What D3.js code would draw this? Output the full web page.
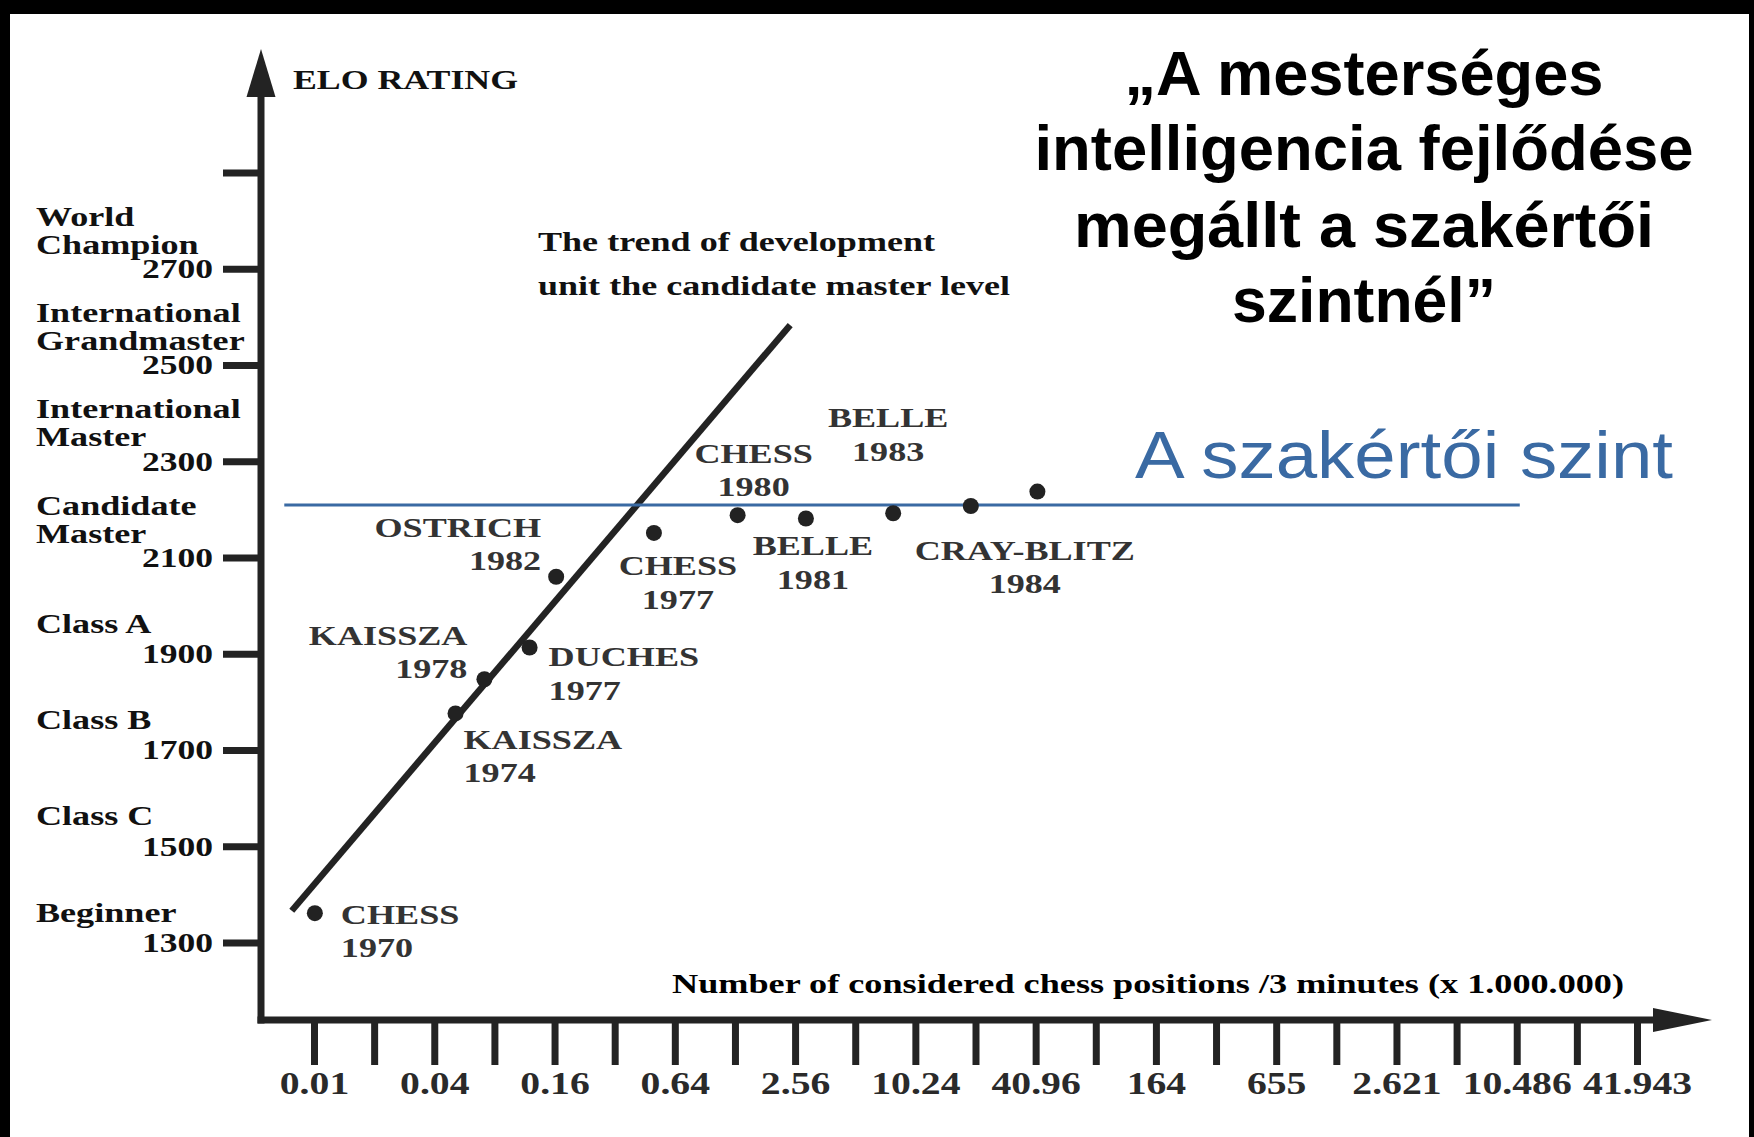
<!DOCTYPE html>
<html><head><meta charset="utf-8">
<script src="https://cdn.jsdelivr.net/npm/d3@7"></script>
<style>html,body{margin:0;padding:0;background:#fff;} svg{display:block}</style>
</head><body>
<svg id="c" width="1754" height="1137"></svg>
<script>
// ---------------- DATA ----------------
const programs  = ["CHESS","KAISSZA","KAISSZA","DUCHES","OSTRICH","CHESS","CHESS","BELLE","BELLE","CRAY-BLITZ",""];
const years     = ["1970","1974","1978","1977","1982","1977","1980","1981","1983","1984",""];
const positions = [0.0101,0.0511,0.0713,0.120,0.163,0.503,1.32,2.90,7.93,19.4,41.8];
const elo       = [1361,1776,1847,1913,2060,2151,2188,2181,2192,2207,2237];

const trendX   = [0.00774, 2.42];
const trendElo = [1366, 2583];

const expertLevel = 2209;
const expertX = [0.0071, 10860];

const yTickValues = [1300,1500,1700,1900,2100,2300,2500,2700,2900];
const yTickLabels = ["1300","1500","1700","1900","2100","2300","2500","2700",""];
const yClassLabels = [["Beginner"],["Class C"],["Class B"],["Class A"],["Candidate","Master"],
  ["International","Master"],["International","Grandmaster"],["World","Champion"],[]];

const xTickValues = [0.01,0.02,0.04,0.08,0.16,0.32,0.64,1.28,2.56,5.12,10.24,20.48,40.96,81.92,
  163.84,327.68,655.36,1310.72,2621.44,5242.88,10485.76,20971.52,41943.04];
const xTickLabels = ["0.01","","0.04","","0.16","","0.64","","2.56","","10.24","","40.96","",
  "164","","655","","2.621","","10.486","","41.943"];

const titleLines = ["\u201EA mesterséges","intelligencia fejlődése","megállt a szakértői","szintnél\u201D"];
const expertText = "A szakértői szint";
const yAxisTitle = "ELO RATING";
const xAxisTitle = "Number of considered chess positions /3 minutes (x 1.000.000)";
const trendText = ["The trend of development","unit the candidate master level"];

// ---------------- LAYOUT (label offsets relative to points) ----------------
const labelLayout = [
  {dx:26, dy:[11,44], a:"start"},
  {dx:8, dy:[36,69], a:"start"},
  {dx:-17, dy:[-34,-1], a:"end"},
  {dx:19, dy:[19,53], a:"start"},
  {dx:-15, dy:[-40,-7], a:"end"},
  {dx:24, dy:[42,76], a:"middle"},
  {dx:16, dy:[-52,-19], a:"middle"},
  {dx:7, dy:[36,70], a:"middle"},
  {dx:-5, dy:[-86,-52], a:"middle"},
  {dx:54, dy:[54,87], a:"middle"},
  {dx:0, dy:[0,0], a:"middle"}
];

const SERIF = "'Liberation Serif','Times New Roman',serif";
const SANS = "'Liberation Sans',Arial,sans-serif";
const AX = "#232323";
const BLUE = "#3a6aa3";
const K = 1.29;

function stretch(sel, k){
  sel.each(function(){
    const L = this.getComputedTextLength();
    if (L > 0){ this.setAttribute("textLength", L*k); this.setAttribute("lengthAdjust","spacingAndGlyphs"); }
  });
}
function fit(sel, w){
  sel.attr("textLength", w).attr("lengthAdjust","spacingAndGlyphs");
}

const svg = d3.select("#c");

// frame
svg.append("rect").attr("x",0).attr("y",0).attr("width",1754).attr("height",14).attr("fill","#000");
svg.append("rect").attr("x",0).attr("y",0).attr("width",10).attr("height",1137).attr("fill","#000");
svg.append("rect").attr("x",1749).attr("y",0).attr("width",5).attr("height",1137).attr("fill","#000");

// scales
const x = d3.scaleLog().base(2).domain([xTickValues[0], xTickValues[xTickValues.length-1]]).range([314,1637]);
const y = d3.scaleLinear().domain([1300,2900]).range([942.5,172.5]);

const originX = 261, originY = 1020;

// axis lines + arrows
svg.append("line").attr("x1",originX).attr("x2",originX).attr("y1",95).attr("y2",originY+3.5)
  .attr("stroke",AX).attr("stroke-width",7);
svg.append("path").attr("d",`M${originX},49 L${originX+14.5},97 L${originX-14.5},97 Z`).attr("fill",AX);
svg.append("line").attr("x1",originX-3.5).attr("x2",1658).attr("y1",originY).attr("y2",originY)
  .attr("stroke",AX).attr("stroke-width",7);
svg.append("path").attr("d",`M1712,${originY} L1653,${originY-12} L1653,${originY+12} Z`).attr("fill",AX);

// y axis
const gy = svg.append("g").attr("transform",`translate(${originX},0)`)
  .call(d3.axisLeft(y).tickValues(yTickValues).tickSize(38).tickPadding(10).tickFormat((d,i)=>yTickLabels[i]));
gy.select(".domain").remove();
gy.attr("font-family",SERIF).attr("font-size",28).attr("font-weight","bold");
gy.selectAll(".tick line").attr("stroke",AX).attr("stroke-width",7);
gy.selectAll(".tick text").attr("fill","#111");
stretch(gy.selectAll(".tick text"), 1.27);

// class labels
yTickValues.forEach((v,i)=>{
  const lines = yClassLabels[i];
  const offs = lines.length===2 ? [-43,-15] : [-21];
  lines.forEach((t,j)=>{
    const tx = svg.append("text").attr("x",36).attr("y",y(v)+offs[j])
      .attr("font-family",SERIF).attr("font-size",28).attr("font-weight","bold").attr("fill","#111").text(t);
    stretch(tx, 1.29);
  });
});

// x axis
const gx = svg.append("g").attr("transform",`translate(0,${originY})`)
  .call(d3.axisBottom(x).tickValues(xTickValues).tickSize(45).tickPadding(7).tickFormat((d,i)=>xTickLabels[i]));
gx.select(".domain").remove();
gx.attr("font-family",SERIF).attr("font-size",31).attr("font-weight","bold");
gx.selectAll(".tick line").attr("stroke",AX).attr("stroke-width",7);
gx.selectAll(".tick text").attr("fill","#2a2a2a");
stretch(gx.selectAll(".tick text"), 1.28);

// axis titles
fit(svg.append("text").attr("x",293).attr("y",89).attr("font-family",SERIF).attr("font-size",28)
  .attr("font-weight","bold").attr("fill","#111").text(yAxisTitle), 225);
fit(svg.append("text").attr("x",672).attr("y",993).attr("font-family",SERIF).attr("font-size",28)
  .attr("font-weight","bold").attr("fill","#000").text(xAxisTitle), 952);

// trend text
fit(svg.append("text").attr("x",538).attr("y",251).attr("font-family",SERIF).attr("font-size",28)
  .attr("font-weight","bold").attr("fill","#111").text(trendText[0]), 397);
fit(svg.append("text").attr("x",538).attr("y",295).attr("font-family",SERIF).attr("font-size",28)
  .attr("font-weight","bold").attr("fill","#111").text(trendText[1]), 472);

// trend line
svg.append("line")
  .attr("x1",x(trendX[0])).attr("y1",y(trendElo[0]))
  .attr("x2",x(trendX[1])).attr("y2",y(trendElo[1]))
  .attr("stroke",AX).attr("stroke-width",6.5);

// expert level line
svg.append("line")
  .attr("x1",x(expertX[0])).attr("x2",x(expertX[1]))
  .attr("y1",y(expertLevel)).attr("y2",y(expertLevel))
  .attr("stroke",BLUE).attr("stroke-width",3);

// points
svg.append("g").selectAll("circle").data(positions).join("circle")
  .attr("cx",(d)=>x(d)).attr("cy",(d,i)=>y(elo[i])).attr("r",8).attr("fill","#222");

// point labels
positions.forEach((p,i)=>{
  if (!programs[i]) return;
  const L = labelLayout[i];
  const px = x(p), py = y(elo[i]);
  [programs[i], years[i]].forEach((t,j)=>{
    const tx = svg.append("text").attr("x",px+L.dx).attr("y",py+L.dy[j]).attr("text-anchor",L.a)
      .attr("font-family",SERIF).attr("font-size",28).attr("font-weight","bold").attr("fill","#333").text(t);
    stretch(tx, K);
  });
});

// title
const titleW = [479, 659, 580, 264];
const titleY = [95, 170, 247, 322];
titleLines.forEach((t,i)=>{
  fit(svg.append("text").attr("x",1364).attr("y",titleY[i]).attr("text-anchor","middle")
    .attr("font-family",SANS).attr("font-size",63).attr("font-weight","bold").attr("fill","#000").text(t), titleW[i]);
});

// expert text
fit(svg.append("text").attr("x",1135).attr("y",478).attr("font-family",SANS).attr("font-size",67)
  .attr("fill",BLUE).text(expertText), 538);
</script>
</body></html>
